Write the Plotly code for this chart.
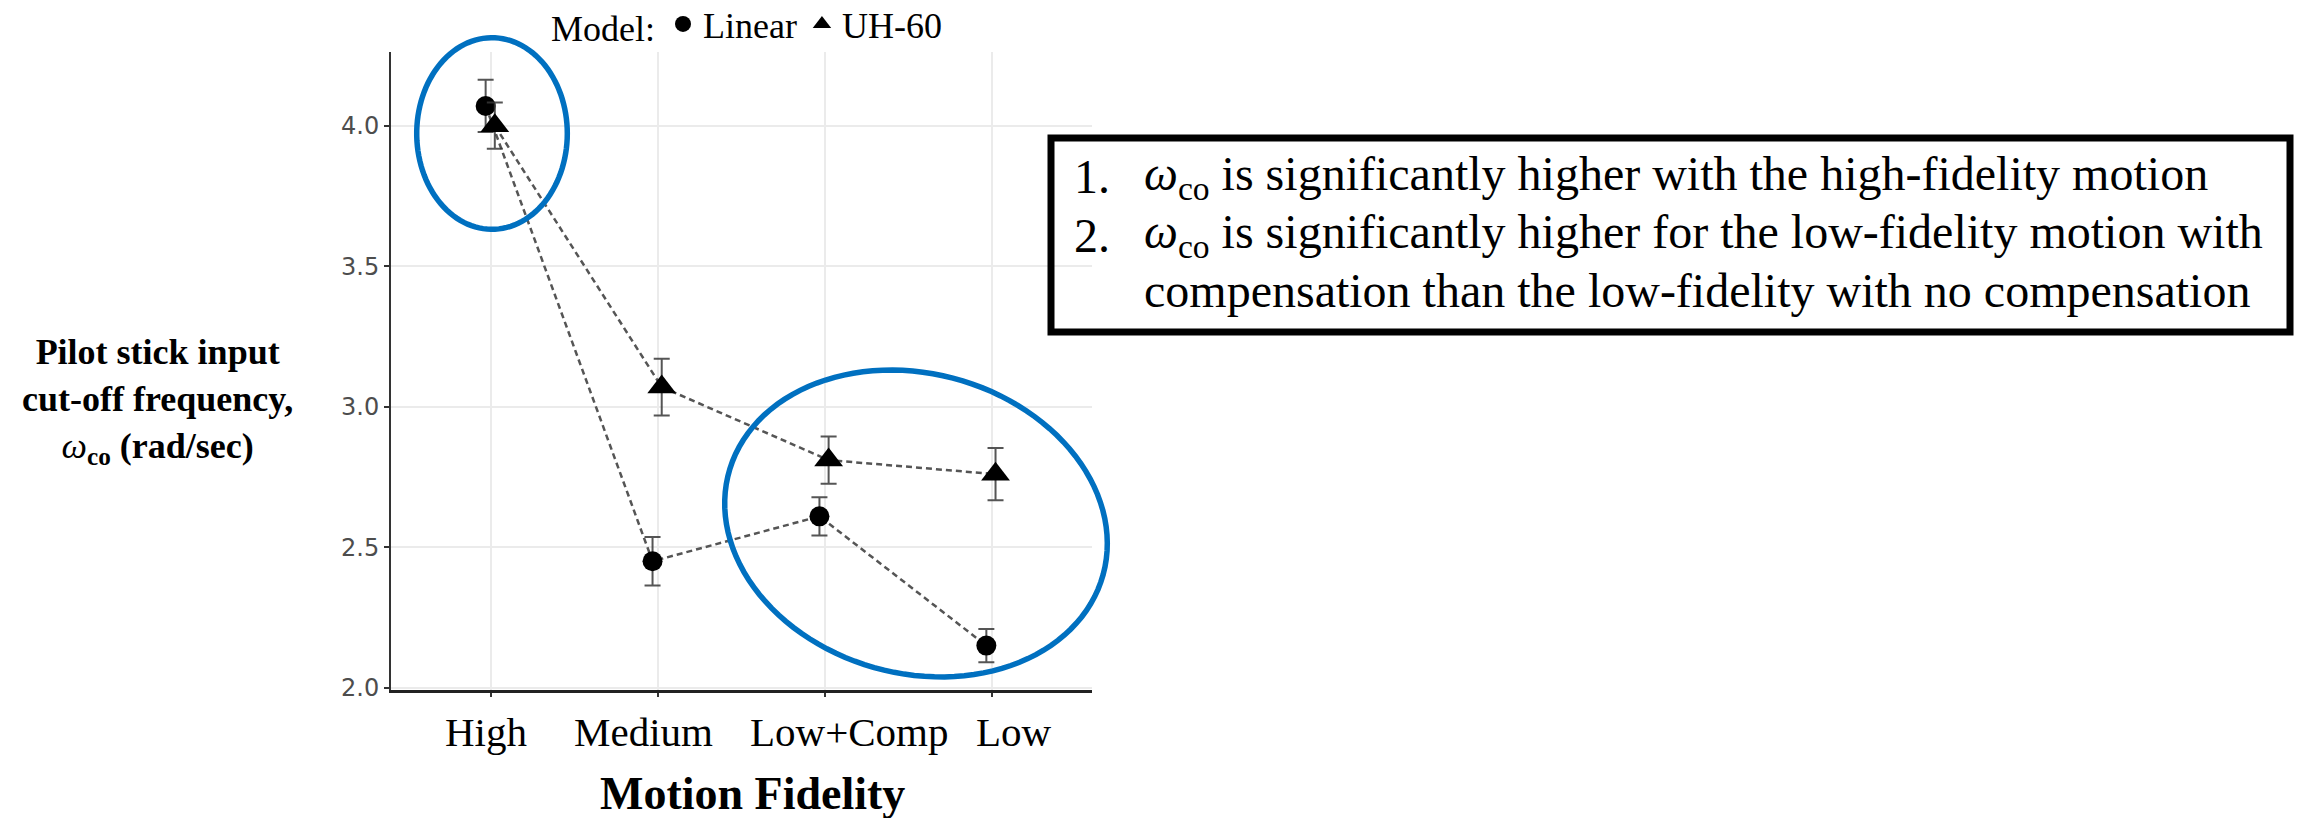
import numpy as np
import plotly.graph_objects as go

# ---- data -------------------------------------------------------------
fidelity = ["High", "Medium", "Low+Comp", "Low"]
linear_mean = [4.07, 2.45, 2.61, 2.15]
linear_se = [0.093, 0.086, 0.068, 0.059]
uh60_mean = [4.00, 3.07, 2.81, 2.76]
uh60_se = [0.082, 0.101, 0.084, 0.093]
y_ticks = [2.0, 2.5, 3.0, 3.5, 4.0]

# ---- page geometry (pixels) --------------------------------------------
W, H = 2297, 818
ML, MR, MT, MB = 391, 1205, 52, 128
PW, PH = W - ML - MR, H - MT - MB


def px(x, y):
    """pixel position on the page -> paper coordinates"""
    return (x - ML) / PW, (H - MB - y) / PH


SERIF = "Liberation Serif, Times New Roman, serif"
BLUE = "#0070C0"
idx = np.arange(len(fidelity))
dodge = {"Linear": -0.033, "UH-60": 0.022}

fig = go.Figure()

# dashed connecting lines
for name, mean in [("Linear", linear_mean), ("UH-60", uh60_mean)]:
    fig.add_trace(go.Scatter(
        x=idx + dodge[name], y=mean, mode="lines", showlegend=False,
        line=dict(color="#555555", width=2.5, dash="6px,4px"), hoverinfo="skip"))

# points with standard-error bars
for name, mean, se, sym, size in [("Linear", linear_mean, linear_se, "circle", 20),
                                  ("UH-60", uh60_mean, uh60_se, "triangle-up", 25)]:
    fig.add_trace(go.Scatter(
        x=idx + dodge[name], y=mean, mode="markers", name=name,
        marker=dict(symbol=sym, size=size, color="black", line=dict(width=0)),
        error_y=dict(type="data", array=se, color="rgba(55,55,55,0.85)",
                     thickness=2, width=8)))

# category labels under the axis
label_shift = [-5, -15, 25, 22]
for i, lab in enumerate(fidelity):
    fig.add_annotation(x=i, y=px(0, 732)[1], xref="x", yref="paper", text=lab,
                       showarrow=False, xshift=label_shift[i],
                       font=dict(family=SERIF, size=41, color="black"),
                       xanchor="center", yanchor="middle")

# axis titles
xt = px(752, 793)
fig.add_annotation(x=xt[0], y=xt[1], xref="paper", yref="paper",
                   text="<b>Motion Fidelity</b>", showarrow=False,
                   xanchor="center", yanchor="middle",
                   font=dict(family=SERIF, size=46, color="black"))
yt = px(157, 401)
fig.add_annotation(x=yt[0], y=yt[1], xref="paper", yref="paper",
                   text="<b>Pilot stick input</b><br><b>cut-off frequency,</b><br>"
                        "<i>ω</i><sub><b>co</b></sub><b> (rad/sec)</b>",
                   showarrow=False, align="center", xanchor="center", yanchor="middle",
                   font=dict(family=SERIF, size=36, color="black"))


# highlight ellipses
def ellipse_path(cx, cy, a, b, theta_deg, n=120):
    t = np.linspace(0, 2 * np.pi, n)
    th = np.deg2rad(theta_deg)
    xs = cx + a * np.cos(t) * np.cos(th) - b * np.sin(t) * np.sin(th)
    ys = cy + a * np.cos(t) * np.sin(th) + b * np.sin(t) * np.cos(th)
    pts = [px(x, y) for x, y in zip(xs, ys)]
    return "M" + " L".join(f"{x:.5f},{y:.5f}" for x, y in pts) + " Z"


for cx, cy, a, b, th in [(492, 133.5, 75.3, 95.8, 0), (916, 523.5, 194, 150, 15.2)]:
    fig.add_shape(type="path", xref="paper", yref="paper",
                  path=ellipse_path(cx, cy, a, b, th),
                  line=dict(color=BLUE, width=5.5), layer="above")

# findings box
b0, b1 = px(1051, 332), px(2290, 138)
fig.add_shape(type="rect", xref="paper", yref="paper", x0=b0[0], y0=b0[1],
              x1=b1[0], y1=b1[1], line=dict(color="black", width=7))

BOX_FS = 48
box_lines = [
    ("1.", "<i>ω</i><sub>co</sub> is significantly higher with the high-fidelity motion", 193),
    ("2.", "<i>ω</i><sub>co</sub> is significantly higher for the low-fidelity motion with", 251.5),
    ("", "compensation than the low-fidelity with no compensation", 306.5),
]
for num, txt, base in box_lines:
    yc = base - 0.34 * BOX_FS
    if num:
        p = px(1072, yc)
        fig.add_annotation(x=p[0], y=p[1], xref="paper", yref="paper", text=num,
                           showarrow=False, xanchor="left", yanchor="middle",
                           font=dict(family=SERIF, size=BOX_FS, color="black"))
    p = px(1142, yc)
    fig.add_annotation(x=p[0], y=p[1], xref="paper", yref="paper", text=txt,
                       showarrow=False, xanchor="left", yanchor="middle",
                       font=dict(family=SERIF, size=BOX_FS, color="black"))

lg = px(549, -6)
fig.update_layout(
    width=W, height=H,
    margin=dict(l=ML, r=MR, t=MT, b=MB, autoexpand=False),
    paper_bgcolor="white", plot_bgcolor="white",
    showlegend=True,
    legend=dict(orientation="h", x=lg[0], y=lg[1], xanchor="left", yanchor="top",
                title=dict(text="Model:", font=dict(family=SERIF, size=36, color="black")),
                font=dict(family=SERIF, size=36, color="black"),
                bgcolor="rgba(0,0,0,0)", itemwidth=30, tracegroupgap=0),
    xaxis=dict(range=[-0.6, 3.6], tickvals=list(idx), showticklabels=False,
               ticks="outside", ticklen=4, tickwidth=2, tickcolor="#333",
               showline=True, linecolor="#222", linewidth=3,
               showgrid=True, gridcolor="#ebebeb", gridwidth=1.5, zeroline=False,
               fixedrange=True),
    yaxis=dict(range=[1.992, 4.262], tickvals=y_ticks, tickformat=".1f",
               ticks="outside", ticklen=5, tickwidth=2, tickcolor="#333",
               tickfont=dict(family="DejaVu Sans, Arial, sans-serif", size=24, color="#4d4d4d"),
               showline=True, linecolor="#333", linewidth=2,
               showgrid=True, gridcolor="#ebebeb", gridwidth=1.5, zeroline=False,
               fixedrange=True),
)

fig.write_html("out.html")
